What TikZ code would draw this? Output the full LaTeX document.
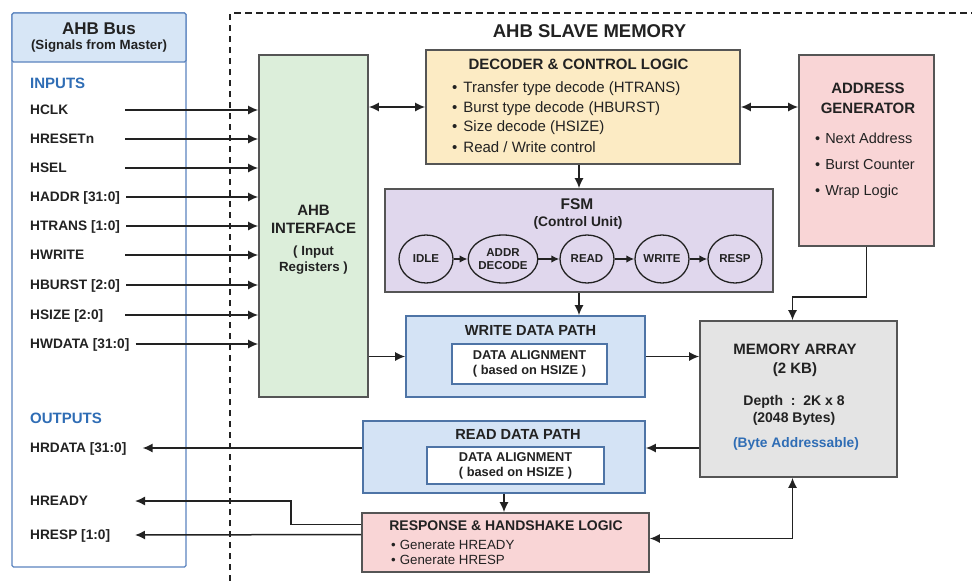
\documentclass[tikz,border=0pt]{standalone}
\usepackage{fontspec}
\setmainfont{Liberation Sans}
\usepackage{xcolor}
\usepackage{tikz}
\usetikzlibrary{
    shapes,
    shapes.geometric,
    positioning,
    calc,
    arrows.meta
}
\definecolor{busblue}{HTML}{5B84BF}
\definecolor{headblue}{HTML}{D7E6F6}
\definecolor{labelblue}{HTML}{2F6DB5}
\definecolor{ifacegreen}{HTML}{DCEEDA}
\definecolor{decyellow}{HTML}{FCEBC4}
\definecolor{genpink}{HTML}{F9D5D6}
\definecolor{fsmpurple}{HTML}{E0D7ED}
\definecolor{pathblue}{HTML}{D4E3F5}
\definecolor{pathedge}{HTML}{4E74A6}
\definecolor{memgray}{HTML}{E4E4E4}
\definecolor{boxedge}{HTML}{555555}
\definecolor{ink}{HTML}{222222}
\tikzset{
  block/.style = {
      draw=boxedge,
      line width=1.6pt,
      inner sep=0pt
  },
  pathblock/.style = {
      block,
      draw=pathedge,
      fill=pathblue
  },
  innerblock/.style = {
      block,
      draw=pathedge,
      fill=white,
      align=center,
      text=ink,
      font=\fontsize{12.8}{15}\selectfont\bfseries
  },
  panel/.style = {
      draw=busblue,
      line width=1.4pt,
      rounded corners=1.5pt,
      inner sep=0pt
  },
  bigtitle/.style = {
      font=\fontsize{18.5}{22}\selectfont\bfseries,
      text=ink,
      inner sep=0pt
  },
  heading/.style = {
      font=\fontsize{15}{19}\selectfont\bfseries,
      text=ink,
      align=center,
      inner sep=0pt
  },
  subhead/.style = {
      font=\fontsize{13.3}{16}\selectfont\bfseries,
      text=ink,
      align=center,
      inner sep=0pt
  },
  bullet/.style = {
      anchor=west,
      font=\fontsize{15}{18}\selectfont,
      text=ink,
      inner sep=0pt
  },
  group/.style = {
      anchor=west,
      font=\fontsize{15}{18}\selectfont\bfseries,
      text=labelblue,
      inner sep=0pt
  },
  signal/.style = {
      anchor=west,
      font=\fontsize{13.7}{16}\selectfont\bfseries,
      text=ink,
      text height=9.8pt,
      text depth=0pt,
      inner sep=0pt
  },
  state/.style = {
      ellipse,
      draw=ink,
      line width=1.3pt,
      fill=fsmpurple,
      minimum width=54pt,
      minimum height=48pt,
      inner sep=0pt,
      align=center,
      text=ink,
      font=\fontsize{11.5}{13.5}\selectfont\bfseries
  },
  link/.style = {
      draw=ink,
      line width=1.5pt
  },
  flow/.style = {
      link,
      -{Latex[length=10pt,width=9pt]}
  },
  dualflow/.style = {
      link,
      {Latex[length=10pt,width=9pt]}-{Latex[length=10pt,width=9pt]}
  },
  stepflow/.style = {
      link,
      -{Latex[length=8pt,width=7.5pt]}
  },
  frame/.style = {
      draw=ink,
      line width=1.3pt,
      dash pattern=on 6.5pt off 4.5pt
  }
}

\begin{document}
\begin{tikzpicture}[x=1pt, y=-1pt]
    \useasboundingbox (0,0) rectangle (972,581);
    % Bus side
    \node[panel, fill=white, minimum width=174pt, minimum height=554pt] (bus) at (99,290) {};
    \node[panel, fill=headblue, minimum width=174pt, minimum height=49pt] (bushead) at (99,37.5) {};
    \node[heading, font=\fontsize{17}{20}\selectfont\bfseries] (bustitle) at (99,29) {AHB Bus};
    \node[subhead] (bussub) at (99,46) {(Signals from Master)};
    \node[group] (inputs) at (30,83) {INPUTS};
    \node[group] (outputs) at (30,418) {OUTPUTS};
    \foreach \s/\t/\y in {hclk/HCLK/110, hresetn/HRESETn/139, hsel/HSEL/168,
        haddr/HADDR [31:0]/197, htrans/HTRANS [1:0]/226, hwrite/HWRITE/255,
        hburst/HBURST [2:0]/285, hsize/HSIZE [2:0]/315, hwdata/HWDATA [31:0]/344,
        hrdata/HRDATA [31:0]/448, hready/HREADY/501, hresp/HRESP [1:0]/535}
      \node[signal] (\s) at (30,\y) {\t};
    \coordinate (outx) at (135,0);

    % Slave frame
    \draw[frame] (230,581) -- (230,13) -- (972,13);
    \node[bigtitle] (slavetitle) at (589.5,31) {AHB SLAVE MEMORY};

    % Blocks
    \node[block, fill=ifacegreen, minimum width=109pt, minimum height=342pt] (iface) at (313.5,226) {};
    \node[heading, font=\fontsize{15}{18}\selectfont\bfseries] (ifacetxt) at (313.5,219) {AHB\\INTERFACE};
    \node[subhead] (ifacesub) at (313.5,260) {( Input\\Registers )};

    \node[block, fill=decyellow, minimum width=314pt, minimum height=114pt] (dec) at (583,107) {};
    \node[heading] (dectitle) at ($(dec.north)+(-4.5,15)$) {DECODER \& CONTROL LOGIC};
    \foreach \t [count=\i from 0] in {Transfer type decode (HTRANS), Burst type decode (HBURST),
        Size decode (HSIZE), Read / Write control}
      \node[bullet] (decitem\i) at (452,{89+19.3*\i}) {\textbullet\hspace{6pt}\t};

    \node[block, fill=genpink, minimum width=135pt, minimum height=191pt] (agen) at (866.5,150.5) {};
    \node[heading, font=\fontsize{15}{20}\selectfont\bfseries] (agentitle) at ($(agen.north)+(1.5,44)$) {ADDRESS\\GENERATOR};
    \foreach \t [count=\i from 0] in {Next Address, Burst Counter, Wrap Logic}
      \node[bullet, font=\fontsize{14.5}{17}\selectfont] (agenitem\i) at (815,{138+27*\i}) {\textbullet\hspace{5pt}\t};

    \node[block, fill=fsmpurple, minimum width=388pt, minimum height=103pt] (fsm) at (579,240.5) {};
    \node[heading, font=\fontsize{15.5}{18}\selectfont\bfseries] (fsmtitle) at ($(fsm.north)+(-2,16)$) {FSM};
    \node[subhead, font=\fontsize{13.8}{16}\selectfont\bfseries] (fsmsub) at ($(fsm.north)+(-1,35)$) {(Control Unit)};
    \node[state] (idle) at (426,259) {IDLE};
    \node[state] (addr) at (503,259) {ADDR\\DECODE};
    \node[state] (read) at (587,259) {READ};
    \node[state] (write) at (662,259) {WRITE};
    \node[state] (respst) at (735,259) {RESP};

    \node[pathblock, minimum width=239pt, minimum height=81pt] (wpath) at (525.5,356.5) {};
    \node[heading, font=\fontsize{14.6}{17}\selectfont\bfseries] (wtitle) at (530.5,330) {WRITE DATA PATH};
    \node[innerblock, minimum width=155pt, minimum height=40pt] (walign) at (529.5,364) {DATA ALIGNMENT\\( based on HSIZE )};

    \node[block, fill=memgray, minimum width=197pt, minimum height=156pt] (mem) at (798.5,399) {};
    \node[heading, font=\fontsize{15}{19}\selectfont\bfseries] (memtitle) at (795,360.5) {MEMORY ARRAY\\(2 KB)};
    \node[subhead, font=\fontsize{14}{17}\selectfont\bfseries] (memdepth) at (794,410.5) {Depth\ \ :\ \ 2K x 8\\(2048 Bytes)};
    \node[subhead, font=\fontsize{13.8}{16}\selectfont\bfseries, text=labelblue] (membyte) at (796,444) {(Byte Addressable)};

    \node[pathblock, minimum width=282pt, minimum height=72pt] (rpath) at (504,457) {};
    \node[heading, font=\fontsize{14.6}{17}\selectfont\bfseries] (rtitle) at (518,434) {READ DATA PATH};
    \node[innerblock, minimum width=177pt, minimum height=37pt] (ralign) at (515.5,465.5) {DATA ALIGNMENT\\( based on HSIZE )};

    \node[block, fill=genpink, minimum width=287pt, minimum height=59pt] (resp) at (505.5,542.5) {};
    \node[heading, font=\fontsize{14}{17}\selectfont\bfseries] (resptitle) at (506,526) {RESPONSE \& HANDSHAKE LOGIC};
    \foreach \t [count=\i from 0] in {Generate HREADY, Generate HRESP}
      \node[bullet, font=\fontsize{13.3}{16}\selectfont] (respitem\i) at (391,{545+15*\i}) {\textbullet\hspace{4pt}\t};

    % Input signals
    \foreach \s in {hclk, hresetn, hsel, haddr, htrans, hwrite, hburst, hsize, hwdata}
      \draw[flow] let \p1 = (\s.east) in ({max(\x1+6pt,125pt)},\y1) -- (\s.east -| iface.west);

    % Internal connections
    \draw[dualflow] (iface.east |- dec.west) -- (dec.west);
    \draw[dualflow] (dec.east) -- (dec.east -| agen.west);
    \draw[flow] (dec.south -| fsm.north) -- (fsm.north);
    \draw[stepflow] (idle) -- (addr);
    \draw[stepflow] (addr) -- (read);
    \draw[stepflow] (read) -- (write);
    \draw[stepflow] (write) -- (respst);
    \draw[flow] (fsm.south) -- (fsm.south |- wpath.north);
    \draw[flow] (iface.east |- wpath.west) -- (wpath.west);
    \draw[flow] (wpath.east) -- (wpath.east -| mem.west);
    \draw[flow] (agen.south) -- ++(0,50) -| ([xshift=-6pt]mem.north);
    \draw[flow] (mem.west |- hrdata) -- (rpath.east |- hrdata);
    \draw[flow] (rpath.south) -- (rpath.south |- resp.north);
    \draw[dualflow] ([xshift=-6pt]mem.south) |- ([yshift=4pt]resp.east);

    % Output signals
    \draw[flow] let \p1 = (hrdata.east) in (rpath.west |- hrdata) -- ({max(\x1+16pt,135pt)},\y1);
    \draw[flow] ([yshift=18pt]resp.west) -- ++(-70,0) |- (outx |- hready);
    \draw[flow] ([yshift=8pt]resp.west) -- (outx |- hresp);
\end{tikzpicture}
\end{document}
